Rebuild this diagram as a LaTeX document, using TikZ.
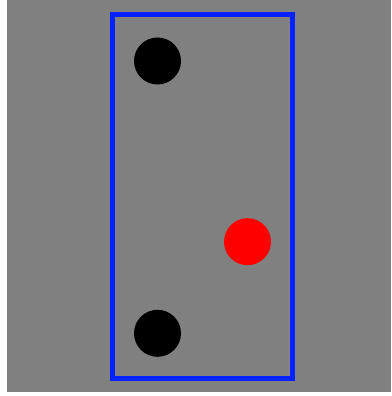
\documentclass[tikz,border=0pt]{standalone}
\usepackage{tikz}
\usepackage{xcolor}
\usetikzlibrary{positioning}
\definecolor{bggray}{HTML}{808080}
\definecolor{frameblue}{HTML}{0022FF}
\definecolor{dotred}{HTML}{FF0000}

\begin{document}
\begin{tikzpicture}[
  x=1pt, y=-1pt,
  dot/.style={circle, inner sep=0pt, minimum size=47pt},
  framebox/.style={rectangle, draw=frameblue, line width=5pt, minimum width=180pt, minimum height=364pt, inner sep=0pt},
]
\useasboundingbox (0, 0) rectangle (391, 396);
\fill[bggray] (7, 0) rectangle (391, 392);
\node[framebox] (frame) at (202.5, 196.5) {};
\node[dot, fill=black] (top) at (157.5, 61) {};
\node[dot, fill=dotred] (mid) at (247.5, 241.7) {};
\node[dot, fill=black] (bot) at (157.5, 333.3) {};
\end{tikzpicture}
\end{document}
